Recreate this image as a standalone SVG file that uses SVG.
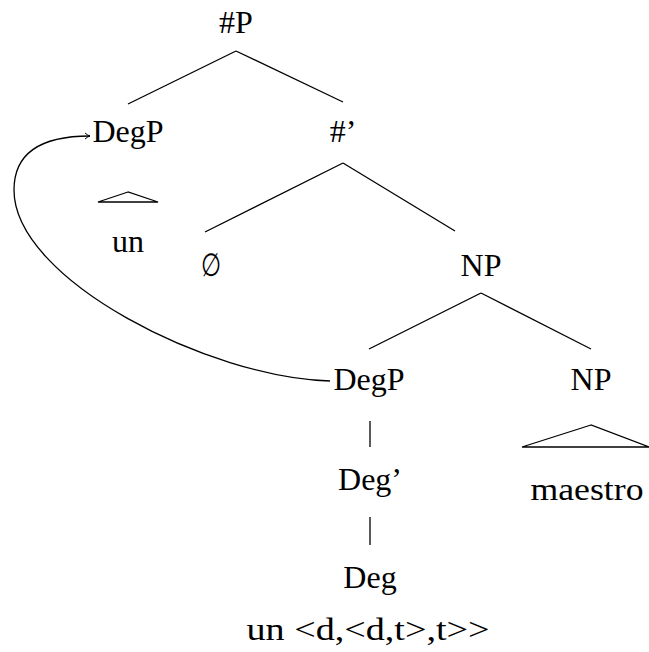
<svg xmlns="http://www.w3.org/2000/svg" width="649" height="652" viewBox="0 0 649 652">
<style>
text{font-family:"Liberation Serif","DejaVu Serif",serif;font-size:32px;fill:#000;text-anchor:middle}
line,path,polygon{stroke:#000;stroke-width:1.3;fill:none}
</style>
<defs>
<marker id="ah" markerWidth="8" markerHeight="8" refX="6" refY="4" orient="auto" markerUnits="userSpaceOnUse">
<path d="M1,1 Q4,3.5 6,4 Q4,4.5 1,7" style="stroke-width:1"/>
</marker>
</defs>
<rect width="649" height="652" fill="#fff"/>
<g id="connectors">
<line x1="236" y1="51" x2="128" y2="104"/>
<line x1="236" y1="51" x2="343" y2="102"/>
<line x1="343" y1="163" x2="205" y2="232"/>
<line x1="343" y1="163" x2="455" y2="231"/>
<line x1="481" y1="293" x2="369" y2="349"/>
<line x1="481" y1="293" x2="591" y2="349"/>
<line x1="370" y1="421" x2="370" y2="447"/>
<line x1="370" y1="517" x2="370" y2="545"/>
<path d="M330 381 C210 378 14 280 14 190 C14 150 45 136 90 136" marker-end="url(#ah)"/>
</g>
<g id="n-hashP"><text x="236" y="33">#P</text></g>
<g id="n-degp-top"><text x="128" y="142">DegP</text></g>
<g id="n-tri-un"><polygon points="128,192 98,202 158,202"/></g>
<g id="n-un"><text x="128" y="252">un</text></g>
<g id="n-hashbar"><text x="343" y="142">#’</text></g>
<g id="n-empty"><text x="211" y="276" transform="translate(211 0) scale(0.72 1) translate(-211 0)">∅</text></g>
<g id="n-np-top"><text x="481" y="276">NP</text></g>
<g id="n-degp"><text x="369" y="390">DegP</text></g>
<g id="n-np"><text x="591" y="390">NP</text></g>
<g id="n-tri-np"><polygon points="591,425 522,447 649,447"/></g>
<g id="n-maestro"><text x="587" y="500" textLength="113" lengthAdjust="spacingAndGlyphs">maestro</text></g>
<g id="n-degbar"><text x="370" y="490">Deg’</text></g>
<g id="n-deg"><text x="370" y="588">Deg</text></g>
<g id="n-un-type"><text x="368" y="640" textLength="243" lengthAdjust="spacingAndGlyphs">un &lt;d,&lt;d,t&gt;,t&gt;&gt;</text></g>
</svg>
